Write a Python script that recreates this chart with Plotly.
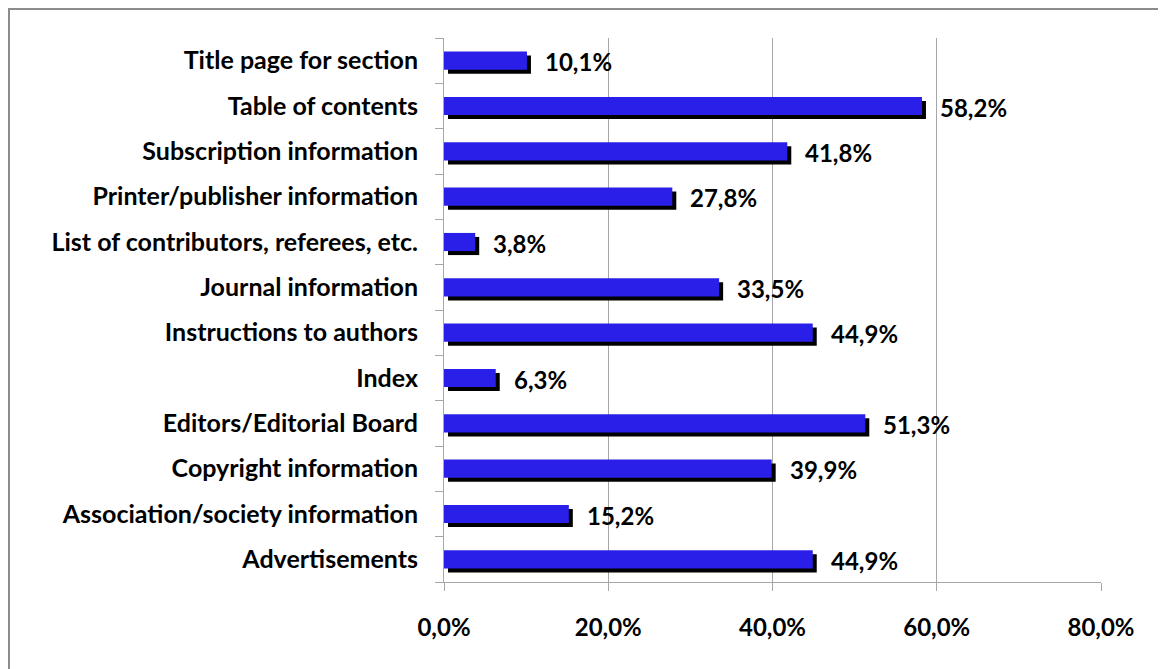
"""Horizontal bar chart with drop shadow, recreated in Plotly."""
import plotly.graph_objects as go

# data (bottom to top)
categories = [
    "Advertisements",
    "Association/society information",
    "Copyright information",
    "Editors/Editorial Board",
    "Index",
    "Instructions to authors",
    "Journal information",
    "List of contributors, referees, etc.",
    "Printer/publisher information",
    "Subscription information",
    "Table of contents",
    "Title page for section",
]
values = [44.9, 15.2, 39.9, 51.3, 6.3, 44.9, 33.5, 3.8, 27.8, 41.8, 58.2, 10.1]
x_ticks = [0, 20, 40, 60, 80]
x_ticktext = [f"{t:.1f}%".replace(".", ",") for t in x_ticks]

# page body has an 8px margin, so the figure is 8px smaller than the window
W, H = 1158, 661
L, R, T, B = 436, 65, 30, 87
pw, ph = W - L - R, H - T - B
xmax = 80
px_per_unit = pw / xmax
row_px = ph / len(categories)

font = "Lato, 'Open Sans', sans-serif"
blue = "#2a1fe8"

fig = go.Figure()

# shadow bars (shifted right and down a few pixels)
fig.add_trace(go.Bar(
    y=categories, x=values, orientation="h",
    base=4 / px_per_unit,
    width=0.4, offset=-0.2 - 4 / row_px,
    marker=dict(color="black", line=dict(width=0)),
    hoverinfo="skip", showlegend=False,
))
# main bars
fig.add_trace(go.Bar(
    y=categories, x=values, orientation="h",
    width=0.4, offset=-0.2,
    marker=dict(color=blue, line=dict(width=0)),
    showlegend=False,
))

# value labels
for cat, v in zip(categories, values):
    fig.add_annotation(
        x=v, y=cat, text=f"{v:.1f}%".replace(".", ","),
        showarrow=False, xanchor="left", xshift=16, yshift=-1,
        font=dict(family=font, size=24, color="black", weight="bold"),
    )

# chart frame (top and left edges visible)
fig.add_shape(
    type="rect", xref="paper", yref="paper",
    x0=-(L - 1) / pw, x1=(W + 20 - L) / pw,
    y0=-(B + 20) / ph, y1=1 + (T - 1) / ph,
    line=dict(color="#8c8c8c", width=2), layer="below",
)

fig.update_layout(
    width=W, height=H,
    margin=dict(l=L, r=R, t=T, b=B),
    paper_bgcolor="white", plot_bgcolor="white",
    barmode="overlay",
    font=dict(family=font, color="black"),
    xaxis=dict(
        range=[0, xmax], tickvals=x_ticks, ticktext=x_ticktext,
        showgrid=True, gridcolor="#a6a6a6", gridwidth=1,
        zeroline=False, showline=True, linecolor="#a6a6a6", linewidth=1,
        ticks="outside", ticklen=8, tickcolor="#a6a6a6",
        ticklabelstandoff=16,
        tickfont=dict(family=font, size=24, color="black", weight="bold"),
        fixedrange=True,
    ),
    yaxis=dict(
        categoryorder="array", categoryarray=categories,
        range=[-0.5, len(categories) - 0.5],
        showgrid=False, zeroline=False,
        showline=True, linecolor="#a6a6a6", linewidth=1,
        ticks="outside", ticklen=8, tickcolor="#a6a6a6", tickson="boundaries",
        ticklabelstandoff=20,
        tickfont=dict(family=font, size=25, color="black", weight="bold"),
        fixedrange=True,
    ),
)

fig.write_html("out.html")
